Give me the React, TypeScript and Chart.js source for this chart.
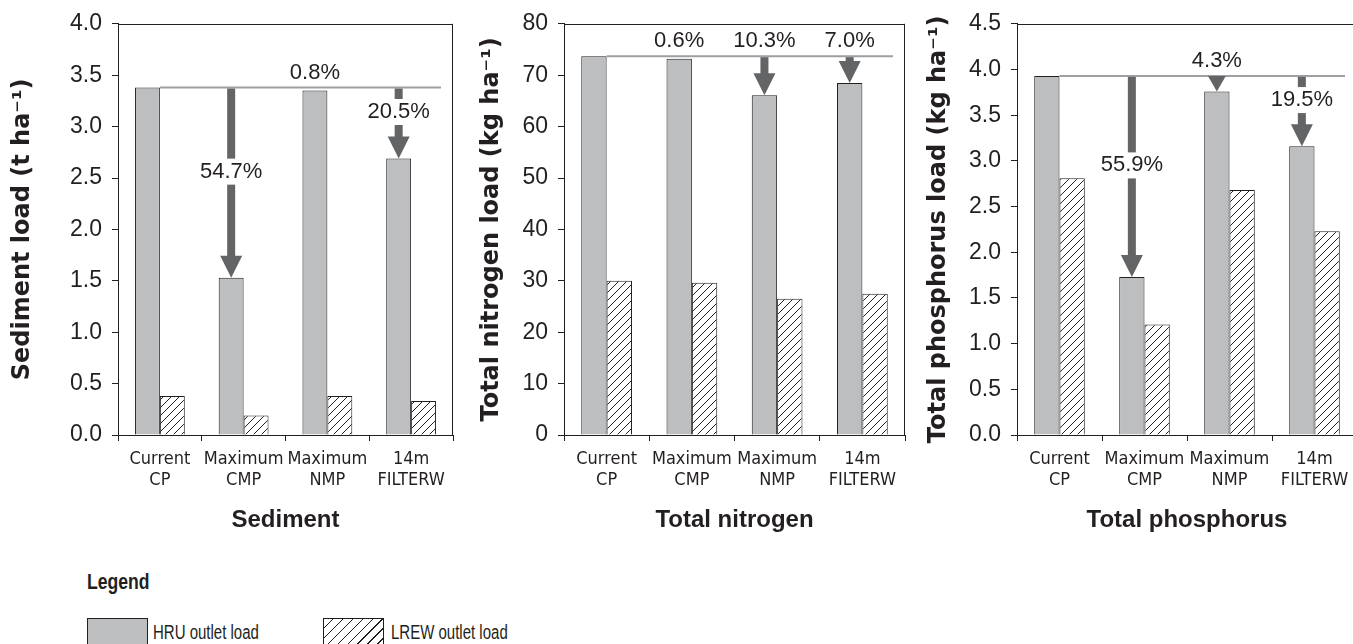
import React, { useEffect, useRef } from "react";
import { Chart, registerables } from "chart.js";

Chart.register(...registerables);

// ---------- data ----------
const categories = [
  ["Current", "CP"],
  ["Maximum", "CMP"],
  ["Maximum", "NMP"],
  ["14m", "FILTERW"],
];
const seriesNames = ["HRU outlet load", "LREW outlet load"];

const sedimentHRU = [3.38, 1.53, 3.35, 2.69];
const sedimentLREW = [0.38, 0.19, 0.38, 0.33];
const sedimentReduction = ["", "54.7%", "0.8%", "20.5%"];
const sedimentPlacement = ["", "inside", "above", "inside"];

const nitrogenHRU = [73.7, 73.2, 66.1, 68.5];
const nitrogenLREW = [30.0, 29.6, 26.5, 27.5];
const nitrogenReduction = ["", "0.6%", "10.3%", "7.0%"];
const nitrogenPlacement = ["", "above", "above", "above"];

const phosphorusHRU = [3.93, 1.73, 3.76, 3.16];
const phosphorusLREW = [2.81, 1.21, 2.68, 2.23];
const phosphorusReduction = ["", "55.9%", "4.3%", "19.5%"];
const phosphorusPlacement = ["", "inside", "above", "inside"];

// axis ranges: [min, max, step, decimals]
const sedimentAxis = [0, 4, 0.5, 1];
const nitrogenAxis = [0, 80, 10, 0];
const phosphorusAxis = [0, 4.5, 0.5, 1];

const panelTitles = ["Sediment", "Total nitrogen", "Total phosphorus"];
const yTitles = [
  "Sediment load (t ha\u207B\u00B9)",
  "Total nitrogen load (kg ha\u207B\u00B9)",
  "Total phosphorus load (kg ha\u207B\u00B9)",
];

// ---------- styles ----------
const INK = "#231f20";
const BAR_GREY = "#bcbec0";
const ARROW_GREY = "#636466";
const LINE_GREY = "#9d9fa2";
const SANS = '"Liberation Sans", Arial, sans-serif';
const NARROW = '"Liberation Sans Narrow", "DejaVu Sans Condensed", "Liberation Sans", sans-serif';
const HEAVY = '"DejaVu Sans", "Liberation Sans", sans-serif';

function makeHatch(): CanvasPattern | string {
  const s = 8;
  const c = document.createElement("canvas");
  c.width = s;
  c.height = s;
  const g = c.getContext("2d");
  if (!g) return "#fff";
  g.fillStyle = "#fff";
  g.fillRect(0, 0, s, s);
  g.strokeStyle = INK;
  g.lineWidth = 1;
  g.beginPath();
  g.moveTo(0, s);
  g.lineTo(s, 0);
  g.moveTo(-2, 2);
  g.lineTo(2, -2);
  g.moveTo(s - 2, s + 2);
  g.lineTo(s + 2, s - 2);
  g.stroke();
  const p = g.createPattern(c, "repeat");
  return p || "#fff";
}

const annotPlugin = {
  id: "annot",
  afterDatasetsDraw(chart: any, _args: any, opts: any) {
    const { ctx, chartArea } = chart;
    const { left, right, top, bottom } = chartArea;
    const yScale = chart.scales.y;
    const meta0 = chart.getDatasetMeta(0);
    const hru: number[] = chart.data.datasets[0].data;
    const yb = yScale.getPixelForValue(hru[0]);
    ctx.save();
    // frame (top + right)
    ctx.strokeStyle = INK;
    ctx.lineWidth = 1;
    ctx.beginPath();
    ctx.moveTo(left, Math.round(top) + 0.5);
    ctx.lineTo(right, Math.round(top) + 0.5);
    ctx.moveTo(Math.round(right) - 0.5, top);
    ctx.lineTo(Math.round(right) - 0.5, bottom);
    ctx.stroke();
    // reference line at first-scenario load
    const bar0 = meta0.data[0];
    ctx.strokeStyle = LINE_GREY;
    ctx.lineWidth = 2;
    ctx.beginPath();
    ctx.moveTo(bar0.x + bar0.width / 2, yb);
    ctx.lineTo(right - 12, yb);
    ctx.stroke();
    // arrows and labels
    const labels: string[] = opts.labels || [];
    const placement: string[] = opts.placement || [];
    labels.forEach((lab, i) => {
      if (!lab) return;
      const bar = meta0.data[i];
      const x = bar.x;
      const yt = yScale.getPixelForValue(hru[i]);
      const len = yt - yb;
      const headH = Math.min(22, len);
      if (len > 6) {
        const headW = Math.min(22, headH * 1.15);
        const shaftEnd = yt - headH;
        ctx.fillStyle = ARROW_GREY;
        ctx.fillRect(x - 4, yb + 1, 8, shaftEnd - yb);
        ctx.beginPath();
        ctx.moveTo(x - headW / 2, shaftEnd);
        ctx.lineTo(x + headW / 2, shaftEnd);
        ctx.lineTo(x, yt);
        ctx.closePath();
        ctx.fill();
      }
      ctx.font = "22px " + SANS;
      ctx.textAlign = "center";
      ctx.textBaseline = "middle";
      if (placement[i] === "inside") {
        const cy = (yb + yt - headH) / 2;
        ctx.fillStyle = "#ffffff";
        ctx.fillRect(x - 6, cy - 13, 12, 26);
        ctx.fillStyle = INK;
        ctx.fillText(lab, x, cy);
      } else {
        ctx.fillStyle = INK;
        ctx.fillText(lab, x, yb - 15);
      }
    });
    ctx.restore();
  },
};

type PanelProps = {
  left: number;
  width: number;
  yWidth: number;
  padRight: number;
  yTitlePad: number;
  hru: number[];
  lrew: number[];
  axis: number[];
  yTitle: string;
  title: string;
  labels: string[];
  placement: string[];
};

const CANVAS_H = 545;
const X_AXIS_H = 110;
const PAD_TOP = 22;

function Panel(p: PanelProps) {
  const ref = useRef<HTMLCanvasElement>(null);
  useEffect(() => {
    if (!ref.current) return;
    const hatch = makeHatch();
    const [min, max, step, dec] = p.axis;
    const chart = new Chart(ref.current, {
      type: "bar",
      data: {
        labels: categories,
        datasets: [
          {
            label: seriesNames[0],
            data: p.hru,
            backgroundColor: BAR_GREY,
            borderColor: INK,
            borderWidth: 1,
          },
          {
            label: seriesNames[1],
            data: p.lrew,
            backgroundColor: hatch as any,
            borderColor: INK,
            borderWidth: 1,
          },
        ],
      },
      options: {
        responsive: false,
        animation: false,
        devicePixelRatio: 1,
        layout: { padding: { top: PAD_TOP, right: p.padRight, left: 0, bottom: 0 } },
        datasets: { bar: { categoryPercentage: 0.595, barPercentage: 1.0 } },
        plugins: {
          legend: { display: false },
          tooltip: { enabled: false },
          annot: { labels: p.labels, placement: p.placement },
        } as any,
        scales: {
          x: {
            grid: {
              display: true,
              drawOnChartArea: false,
              offset: true,
              tickLength: 6,
              color: INK,
            },
            border: { display: true, color: INK, width: 1 },
            ticks: {
              color: INK,
              font: { family: NARROW, size: 18, lineHeight: 1.17 },
              padding: 8,
              maxRotation: 0,
              autoSkip: false,
            },
            title: {
              display: true,
              text: p.title,
              color: INK,
              font: { family: SANS, size: 24, weight: "bold" },
              padding: { top: 0, bottom: 10 },
            },
            afterFit: (s: any) => {
              s.height = X_AXIS_H;
            },
          },
          y: {
            min,
            max,
            grid: {
              display: true,
              drawOnChartArea: false,
              tickLength: 6,
              color: INK,
            },
            border: { display: true, color: INK, width: 1 },
            ticks: {
              stepSize: step,
              color: INK,
              padding: 10,
              font: { family: SANS, size: 23 },
              callback: (v: any) => Number(v).toFixed(dec),
            },
            title: {
              display: true,
              text: p.yTitle,
              color: INK,
              font: { family: HEAVY, size: 24, weight: "bold" },
              padding: { top: p.yTitlePad, bottom: 0 },
            },
            afterFit: (s: any) => {
              s.width = p.yWidth;
            },
          },
        },
      },
      plugins: [annotPlugin as any],
    });
    return () => chart.destroy();
  }, []);
  return (
    <canvas
      ref={ref}
      width={p.width}
      height={CANVAS_H}
      style={{ position: "absolute", left: p.left, top: 0, width: p.width, height: CANVAS_H }}
    />
  );
}

function Legend() {
  const textStyle: React.CSSProperties = {
    position: "absolute",
    fontFamily: SANS,
    fontSize: 20,
    lineHeight: "22px",
    color: INK,
    whiteSpace: "nowrap",
    transform: "scaleX(0.75)",
    transformOrigin: "left center",
  };
  return (
    <>
      <div
        style={{
          position: "absolute",
          left: 87,
          top: 569,
          fontFamily: SANS,
          fontWeight: "bold",
          fontSize: 22,
          lineHeight: "26px",
          color: INK,
          transform: "scaleX(0.8)",
          transformOrigin: "left center",
        }}
      >
        Legend
      </div>
      <div
        style={{
          position: "absolute",
          left: 87,
          top: 618,
          width: 61,
          height: 40,
          boxSizing: "border-box",
          border: "1px solid " + INK,
          background: BAR_GREY,
        }}
      />
      <div style={{ ...textStyle, left: 153, top: 621 }}>{seriesNames[0]}</div>
      <div
        style={{
          position: "absolute",
          left: 323,
          top: 618,
          width: 61,
          height: 40,
          boxSizing: "border-box",
          border: "1px solid " + INK,
          background:
            "repeating-linear-gradient(135deg, #ffffff 0px, #ffffff 6px, " + INK + " 6px, " + INK + " 7px)",
        }}
      />
      <div style={{ ...textStyle, left: 391, top: 621 }}>{seriesNames[1]}</div>
    </>
  );
}

export default function App() {
  return (
    <div
      style={{
        position: "fixed",
        left: 0,
        top: 0,
        width: 1353,
        height: 644,
        overflow: "hidden",
        background: "#ffffff",
      }}
    >
      <Panel
        left={0}
        width={460}
        yWidth={118}
        padRight={7}
        yTitlePad={8}
        hru={sedimentHRU}
        lrew={sedimentLREW}
        axis={sedimentAxis}
        yTitle={yTitles[0]}
        title={panelTitles[0]}
        labels={sedimentReduction}
        placement={sedimentPlacement}
      />
      <Panel
        left={460}
        width={452}
        yWidth={104}
        padRight={7}
        yTitlePad={17}
        hru={nitrogenHRU}
        lrew={nitrogenLREW}
        axis={nitrogenAxis}
        yTitle={yTitles[1]}
        title={panelTitles[1]}
        labels={nitrogenReduction}
        placement={nitrogenPlacement}
      />
      <Panel
        left={912}
        width={453}
        yWidth={105}
        padRight={8}
        yTitlePad={12}
        hru={phosphorusHRU}
        lrew={phosphorusLREW}
        axis={phosphorusAxis}
        yTitle={yTitles[2]}
        title={panelTitles[2]}
        labels={phosphorusReduction}
        placement={phosphorusPlacement}
      />
      <Legend />
    </div>
  );
}
